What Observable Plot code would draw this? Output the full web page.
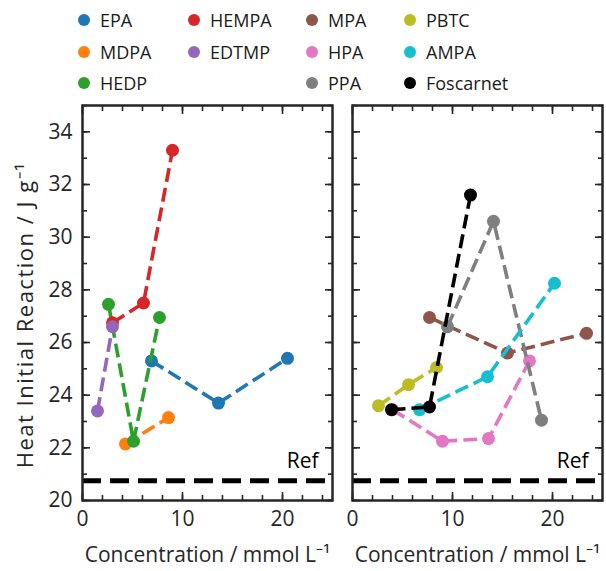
<!DOCTYPE html>
<html><head><meta charset="utf-8">
<script src="https://cdn.jsdelivr.net/npm/d3@7"></script>
<script src="https://cdn.jsdelivr.net/npm/@observablehq/plot@0.6"></script>
<style>
body{margin:0;background:#fff;font-family:"Open Sans",sans-serif;}
#wrap{position:relative;width:606px;height:571px;overflow:hidden;}
#legend{position:absolute;left:0;top:0;width:606px;height:100px;}
.item{position:absolute;display:flex;align-items:center;font-size:18px;color:#1a1a1a;line-height:20px;white-space:nowrap;}
.sw{width:12px;height:12px;border-radius:50%;margin-right:10px;}
#left{position:absolute;left:0;top:100px;}
#right{position:absolute;left:340px;top:100px;}
</style>
</head><body>
<div id="wrap"><div id="legend"></div><div id="left"></div><div id="right"></div></div>
<script>
// ---- data ----
const seriesNames = ["EPA","MDPA","HEDP","HEMPA","EDTMP","MPA","HPA","PPA","PBTC","AMPA","Foscarnet"];
const seriesColors = ["#1f77b4","#ff7f0e","#2ca02c","#d62728","#9467bd","#8c564b","#e377c2","#7f7f7f","#bcbd22","#17becf","#000000"];
const leftPanel = ["EPA","MDPA","HEDP","HEMPA","EDTMP"];
const rightPanel = ["MPA","HPA","PPA","PBTC","AMPA","Foscarnet"];

const EPA_x = [6.9, 13.6, 20.5],   EPA_y = [25.3, 23.7, 25.4];
const MDPA_x = [4.3, 8.6],         MDPA_y = [22.15, 23.15];
const HEDP_x = [2.6, 5.1, 7.7],    HEDP_y = [27.45, 22.25, 26.95];
const HEMPA_x = [3.0, 6.1, 9.0],   HEMPA_y = [26.75, 27.5, 33.3];
const EDTMP_x = [1.5, 3.0],        EDTMP_y = [23.4, 26.6];
const MPA_x = [7.7, 15.5, 23.4],   MPA_y = [26.95, 25.6, 26.35];
const HPA_x = [4.0, 9.0, 13.6, 17.7], HPA_y = [23.45, 22.25, 22.35, 25.3];
const PPA_x = [9.5, 14.1, 18.9],   PPA_y = [26.6, 30.6, 23.05];
const PBTC_x = [2.6, 5.6, 8.4],    PBTC_y = [23.6, 24.4, 25.05];
const AMPA_x = [6.7, 13.5, 20.2],  AMPA_y = [23.45, 24.7, 28.25];
const Foscarnet_x = [3.9, 7.7, 11.8], Foscarnet_y = [23.45, 23.55, 31.6];

const refValue = 20.75;
const refLabel = "Ref";
const xTickLabels = [0, 10, 20];
const yTickLabels = [20, 22, 24, 26, 28, 30, 32, 34];
const xLabel = "Concentration / mmol L\u207B\u00B9";
const yLabel = "Heat Initial Reaction / J g\u207B\u00B9";
const legendColumns = [["EPA","MDPA","HEDP"],["HEMPA","EDTMP"],["MPA","HPA","PPA"],["PBTC","AMPA","Foscarnet"]];

const xs = {EPA:EPA_x, MDPA:MDPA_x, HEDP:HEDP_x, HEMPA:HEMPA_x, EDTMP:EDTMP_x, MPA:MPA_x, HPA:HPA_x, PPA:PPA_x, PBTC:PBTC_x, AMPA:AMPA_x, Foscarnet:Foscarnet_x};
const ys = {EPA:EPA_y, MDPA:MDPA_y, HEDP:HEDP_y, HEMPA:HEMPA_y, EDTMP:EDTMP_y, MPA:MPA_y, HPA:HPA_y, PPA:PPA_y, PBTC:PBTC_y, AMPA:AMPA_y, Foscarnet:Foscarnet_y};
const colorOf = Object.fromEntries(seriesNames.map((n,i)=>[n, seriesColors[i]]));

// ---- legend ----
const legend = document.getElementById("legend");
const colX = [78, 188, 306, 404];
const rowY = [20, 52, 83];
legendColumns.forEach((col, ci) => col.forEach((name, ri) => {
  const d = document.createElement("div");
  d.className = "item";
  d.style.left = colX[ci] + "px";
  d.style.top = (rowY[ri] - 10) + "px";
  d.innerHTML = `<span class="sw" style="background:${colorOf[name]}"></span><span>${name}</span>`;
  legend.appendChild(d);
}));

// ---- panels ----
const ink = "#262626";
const fs = 21;
function panel(names, {width, marginLeft, marginRight, showY}) {
  const marks = [];
  marks.push(Plot.ruleY([refValue], {stroke:"#000", strokeWidth:5, strokeDasharray:"19,9"}));
  marks.push(Plot.text([refLabel], {frameAnchor:"right", y: () => refValue, dx:-14, dy:-19, textAnchor:"end", fontSize:fs, fill:"#000"}));
  for (const n of names) {
    const data = xs[n].map((x,i)=>({x, y: ys[n][i]}));
    marks.push(Plot.line(data, {x:"x", y:"y", stroke: colorOf[n], strokeWidth:3.6, strokeDasharray:"14,6", strokeLinecap:"butt"}));
    marks.push(Plot.dot(data, {x:"x", y:"y", r:6.5, fill: colorOf[n], stroke:"none"}));
  }
  // inward ticks on all four sides
  for (const a of ["bottom","top"]) {
    marks.push(Plot.axisX(d3.range(0, 26, 2), {anchor:a, tickSize:-5, text:null, label:null, stroke:ink, strokeWidth:1.6}));
    marks.push(Plot.axisX(xTickLabels, {anchor:a, tickSize:-8, text:null, label:null, stroke:ink, strokeWidth:1.6}));
  }
  for (const a of ["left","right"]) {
    marks.push(Plot.axisY(d3.range(20, 36, 1), {anchor:a, tickSize:-5, text:null, label:null, stroke:ink, strokeWidth:1.6}));
    marks.push(Plot.axisY(yTickLabels, {anchor:a, tickSize:-8, text:null, label:null, stroke:ink, strokeWidth:1.6}));
  }
  marks.push(Plot.axisX(xTickLabels, {anchor:"bottom", tickSize:0, tickPadding:11, label:null, fontSize:fs, fill:ink}));
  if (showY) {
    marks.push(Plot.axisY(yTickLabels, {anchor:"left", tickSize:0, tickPadding:10, label:null, fontSize:fs, fill:ink}));
    marks.push(Plot.text([yLabel], {frameAnchor:"left", textAnchor:"middle", lineAnchor:"middle", rotate:-90, dx:-57, dy:12, fontSize:22, fill:ink}));
  }
  marks.push(Plot.text([xLabel], {frameAnchor:"bottom", textAnchor:"middle", lineAnchor:"middle", dy:55, fontSize:fs, fill:ink}));
  marks.push(Plot.frame({stroke:ink, strokeWidth:2.5}));
  const svg = Plot.plot({
    width, height:471, marginLeft, marginRight, marginTop:5, marginBottom:71,
    x:{domain:[0,25]}, y:{domain:[20,35]},
    style:{fontFamily:'"Open Sans", sans-serif', fontSize:fs + "px", background:"#fff", overflow:"visible"},
    marks
  });
  d3.select(svg).selectAll("text").filter(function(){ return this.textContent === yLabel; }).attr("letter-spacing", "1.5px");
  return svg;
}
document.getElementById("left").appendChild(panel(leftPanel, {width:340, marginLeft:82, marginRight:8, showY:true}));
document.getElementById("right").appendChild(panel(rightPanel, {width:266, marginLeft:12, marginRight:4, showY:false}));
</script>
</body></html>
